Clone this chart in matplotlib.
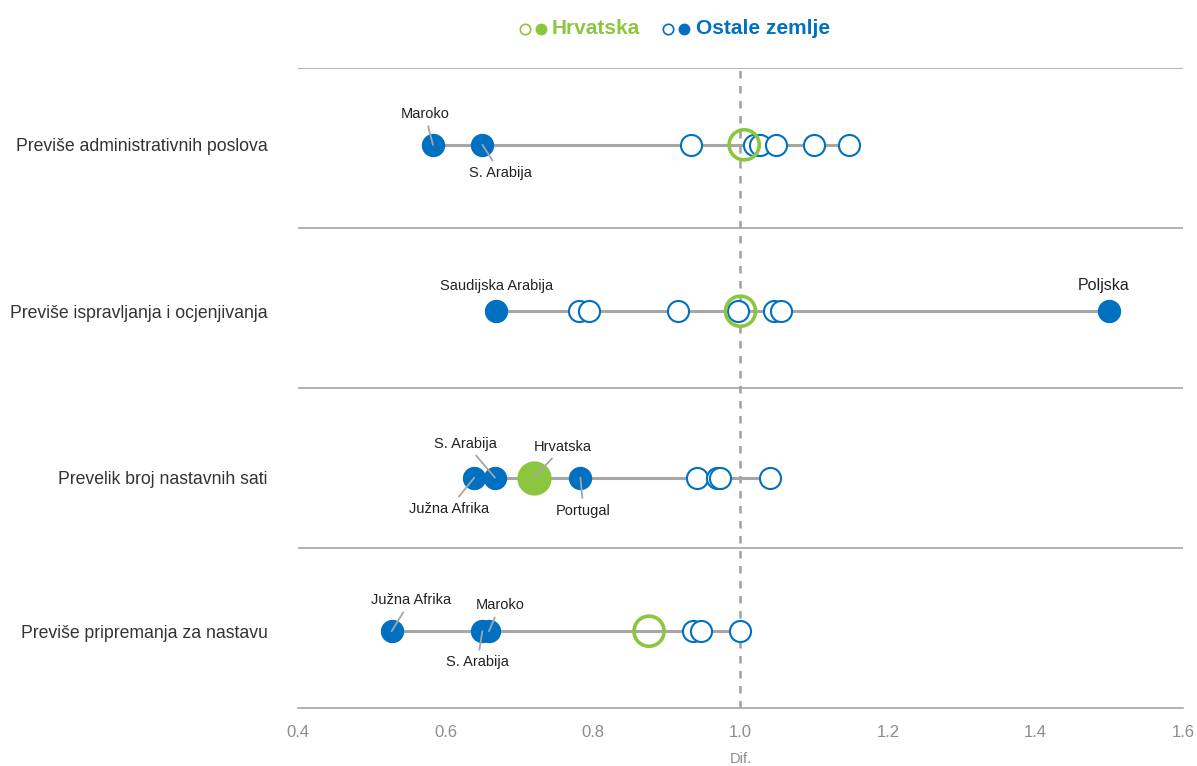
import matplotlib.pyplot as plt
from matplotlib.lines import Line2D

# data
categories = ["Previše administrativnih poslova",
              "Previše ispravljanja i ocjenjivanja",
              "Prevelik broj nastavnih sati",
              "Previše pripremanja za nastavu"]

# other countries, not significant (open markers)
others_open = [
    [0.933, 1.018, 1.027, 1.048, 1.100, 1.147],
    [0.781, 0.795, 0.915, 0.996, 1.045, 1.055],
    [0.941, 0.968, 0.972, 1.040],
    [0.936, 0.946, 0.999],
]
# other countries, significant (filled markers) with their labels
others_filled = [
    [0.583, 0.650],
    [0.669, 1.500],
    [0.639, 0.667, 0.783],
    [0.527, 0.650, 0.659],
]
filled_labels = [
    ["Maroko", "S. Arabija"],
    ["Saudijska Arabija", "Poljska"],
    ["Južna Afrika", "S. Arabija", "Portugal"],
    ["Južna Afrika", "S. Arabija", "Maroko"],
]
croatia = [1.005, 1.000, 0.720, 0.876]
croatia_filled = [False, False, True, False]

# label offsets in pixels (text centre relative to the point), leader line or not
label_offsets = [
    [(-8, 31, True), (18, -28, True)],
    [(0, 25, False), (-6, 26, False)],
    [(-25, -31, True), (-29, 34, True), (3, -33, True)],
    [(19, 31, True), (-5, -31, True), (11, 26, True)],
]

blue = "#0070C0"
green = "#8CC63F"
grey = "#A6A6A6"
row_y = [-0.02, 1.02, 2.06, 3.02]

plt.rcParams["font.family"] = ["Liberation Sans", "DejaVu Sans"]

fig = plt.figure(figsize=(11.97, 7.66), dpi=100)
ax = fig.add_axes([298 / 1197, 1 - 708 / 766, 885 / 1197, 640 / 766])
ax.set_xlim(0.4, 1.6)
ax.set_ylim(3.5, -0.5)

for sep in [-0.5, 0.5, 1.5, 2.5]:
    ax.axhline(sep, color=grey, lw=1.2, zorder=1)
ax.axvline(1.0, color="#A0A0A0", lw=1.8, ls=(0, (3, 3)), zorder=1)

for i in range(len(categories)):
    y = row_y[i]
    allx = others_open[i] + others_filled[i] + [croatia[i]]
    ax.plot([min(allx), max(allx)], [y, y], color=grey, lw=2.2, zorder=2)
    ax.scatter(others_open[i], [y] * len(others_open[i]), s=230,
               facecolor="white", edgecolor=blue, linewidth=1.5, zorder=3)
    if croatia_filled[i]:
        ax.scatter([croatia[i]], [y], s=560, facecolor=green, edgecolor=green,
                   linewidth=1, zorder=4)
    else:
        ax.scatter([croatia[i]], [y], s=470, facecolor="none", edgecolor=green,
                   linewidth=2.6, zorder=4)
    ax.scatter(others_filled[i], [y] * len(others_filled[i]), s=250,
               facecolor=blue, edgecolor=blue, linewidth=1, zorder=5)

    for x, lab, (dx, dy, leader) in zip(others_filled[i], filled_labels[i], label_offsets[i]):
        size = 11.5 if lab == "Poljska" else 10.5
        ax.annotate(lab, xy=(x, y), xytext=(dx, dy), textcoords="offset pixels",
                    ha="center", va="center", fontsize=size,
                    color="#222222", zorder=6,
                    arrowprops=dict(arrowstyle="-", color=grey, lw=1.3,
                                    shrinkA=2, shrinkB=0) if leader else None)
    if croatia_filled[i]:
        ax.annotate("Hrvatska", xy=(croatia[i], y), xytext=(29, 31),
                    textcoords="offset pixels", ha="center", va="center",
                    fontsize=10.5, color="#222222", zorder=6,
                    arrowprops=dict(arrowstyle="-", color=grey, lw=1.3,
                                    shrinkA=2, shrinkB=0))

ax.set_yticks(row_y)
ax.set_yticklabels(categories, fontsize=12.7, color="#333333")
ax.tick_params(axis="y", length=0, pad=21.6)
ax.set_xticks([0.4, 0.6, 0.8, 1.0, 1.2, 1.4, 1.6])
ax.set_xticklabels(["0.4", "0.6", "0.8", "1.0", "1.2", "1.4", "1.6"],
                   fontsize=12, color="#8C8C8C")
ax.tick_params(axis="x", length=0, pad=12)
ax.set_xlabel("Dif.", fontsize=10.5, color="#8C8C8C", labelpad=9)
for side in ["top", "left", "right"]:
    ax.spines[side].set_visible(False)
ax.spines["bottom"].set_color(grey)
ax.spines["bottom"].set_linewidth(1.2)

# legend on top
ly = 1 - 29 / 766
fig.add_artist(Line2D([525 / 1197], [ly], marker="o", ms=7.5, mfc="white",
                      mec=green, mew=1.2, transform=fig.transFigure))
fig.add_artist(Line2D([541 / 1197], [ly], marker="o", ms=7.5, mfc=green,
                      mec=green, transform=fig.transFigure))
fig.text(552 / 1197, ly, "Hrvatska", color=green, fontsize=15, fontweight="bold",
         va="center", ha="left")
fig.add_artist(Line2D([668 / 1197], [ly], marker="o", ms=7.5, mfc="white",
                      mec=blue, mew=1.2, transform=fig.transFigure))
fig.add_artist(Line2D([684 / 1197], [ly], marker="o", ms=7.5, mfc=blue,
                      mec=blue, transform=fig.transFigure))
fig.text(696 / 1197, ly, "Ostale zemlje", color=blue, fontsize=15, fontweight="bold",
         va="center", ha="left")

fig.savefig("out.png", dpi=100)
